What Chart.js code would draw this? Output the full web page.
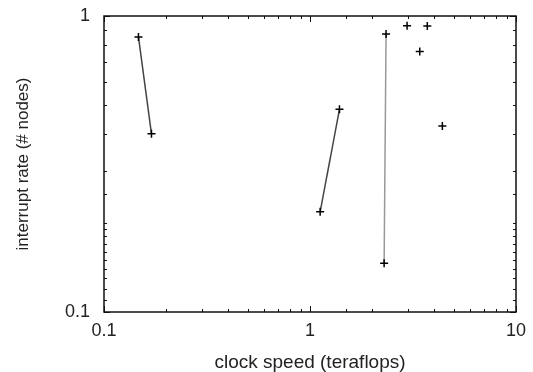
<!DOCTYPE html>
<html>
<head>
<meta charset="utf-8">
<script src="https://cdn.jsdelivr.net/npm/chart.js@4"></script>
<style>
  body { margin: 0; background: #fff; }
  #wrap { width: 533px; height: 372px; }
</style>
</head>
<body>
<div id="wrap"><canvas id="mychart"></canvas></div>
<script>
// clock speed (teraflops) vs interrupt rate (# nodes)
const pairOneSpeed = [0.147, 0.170];
const pairOneRate = [0.85, 0.40];
const pairTwoSpeed = [1.12, 1.39];
const pairTwoRate = [0.218, 0.484];
const pairThreeSpeed = [2.34, 2.29];
const pairThreeRate = [0.87, 0.146];
const singleSpeed = [2.96, 3.71, 3.41, 4.39];
const singleRate = [0.927, 0.925, 0.758, 0.425];

const xTicks = [0.1, 1, 10];
const yTicks = [0.1, 1];

function toPoints(xs, ys) {
    return xs.map((v, i) => ({ x: v, y: ys[i] }));
}

function isDecade(v) {
    let l = Math.log10(v);
    return Math.abs(l - Math.round(l)) < 1e-6;
}

// gnuplot style frame with inward ticks on all four sides
const frameTicks = {
    id: 'frameTicks',
    afterDatasetsDraw(chart) {
        const ctx = chart.ctx;
        const a = chart.chartArea;
        const x = chart.scales.x;
        const y = chart.scales.y;
        ctx.save();
        ctx.strokeStyle = '#111';
        ctx.lineWidth = 1;
        x.ticks.forEach(t => {
            let px = Math.round(x.getPixelForValue(t.value)) + 0.5;
            let len = isDecade(t.value) ? 6 : 3;
            ctx.beginPath();
            ctx.moveTo(px, a.bottom); ctx.lineTo(px, a.bottom - len);
            ctx.moveTo(px, a.top); ctx.lineTo(px, a.top + len);
            ctx.stroke();
        });
        y.ticks.forEach(t => {
            let py = Math.round(y.getPixelForValue(t.value)) + 0.5;
            let len = isDecade(t.value) ? 6 : 3;
            ctx.beginPath();
            ctx.moveTo(a.left, py); ctx.lineTo(a.left + len, py);
            ctx.moveTo(a.right, py); ctx.lineTo(a.right - len, py);
            ctx.stroke();
        });
        ctx.lineWidth = 1.5;
        ctx.strokeRect(a.left, a.top, a.right - a.left, a.bottom - a.top);
        ctx.restore();
    }
};

function seg(xs, ys, color) {
    return {
        data: toPoints(xs, ys),
        showLine: true,
        borderColor: color,
        borderWidth: 1.5,
        pointStyle: 'cross',
        pointRadius: 4,
        pointBorderColor: '#000',
        pointBorderWidth: 1.5
    };
}

const textColor = '#222';

let myChart = new Chart(document.getElementById('mychart').getContext('2d'), {
    type: 'scatter',
    data: {
        datasets: [
            seg(pairOneSpeed, pairOneRate, '#444'),
            seg(pairTwoSpeed, pairTwoRate, '#444'),
            seg(pairThreeSpeed, pairThreeRate, '#999'),
            {
                data: toPoints(singleSpeed, singleRate),
                showLine: false,
                pointStyle: 'cross',
                pointRadius: 4,
                pointBorderColor: '#000',
                pointBorderWidth: 1.5
            }
        ]
    },
    options: {
        responsive: true,
        maintainAspectRatio: false,
        animation: false,
        layout: { padding: { top: 16, right: 17, left: 0, bottom: 0 } },
        plugins: { legend: { display: false }, tooltip: { enabled: false } },
        scales: {
            x: {
                type: 'logarithmic',
                min: 0.1,
                max: 10,
                afterFit: s => { s.height = 60; s.paddingLeft = 0; s.paddingRight = 0; },
                grid: { display: false, drawTicks: false },
                border: { display: false },
                ticks: {
                    autoSkip: false,
                    maxRotation: 0,
                    padding: 8,
                    color: textColor,
                    font: { family: 'Liberation Sans, Arial, sans-serif', size: 18 },
                    callback: v => xTicks.some(t => Math.abs(t - v) < 1e-9) ? String(v) : ''
                },
                title: {
                    display: true,
                    text: 'clock speed (teraflops)',
                    color: textColor,
                    padding: 0,
                    font: { family: 'Liberation Sans, Arial, sans-serif', size: 19, lineHeight: 1 }
                }
            },
            y: {
                type: 'logarithmic',
                min: 0.1,
                max: 1,
                afterFit: s => { s.width = 104; s.paddingTop = 0; s.paddingBottom = 0; },
                grid: { display: false, drawTicks: false },
                border: { display: false },
                ticks: {
                    autoSkip: false,
                    padding: 14,
                    color: textColor,
                    font: { family: 'Liberation Sans, Arial, sans-serif', size: 18 },
                    callback: v => yTicks.some(t => Math.abs(t - v) < 1e-9) ? String(v) : ''
                },
                title: {
                    display: true,
                    text: 'interrupt rate (# nodes)',
                    color: textColor,
                    padding: 15,
                    font: { family: 'Liberation Sans, Arial, sans-serif', size: 17, lineHeight: 1 }
                }
            }
        }
    },
    plugins: [frameTicks]
});
</script>
</body>
</html>
